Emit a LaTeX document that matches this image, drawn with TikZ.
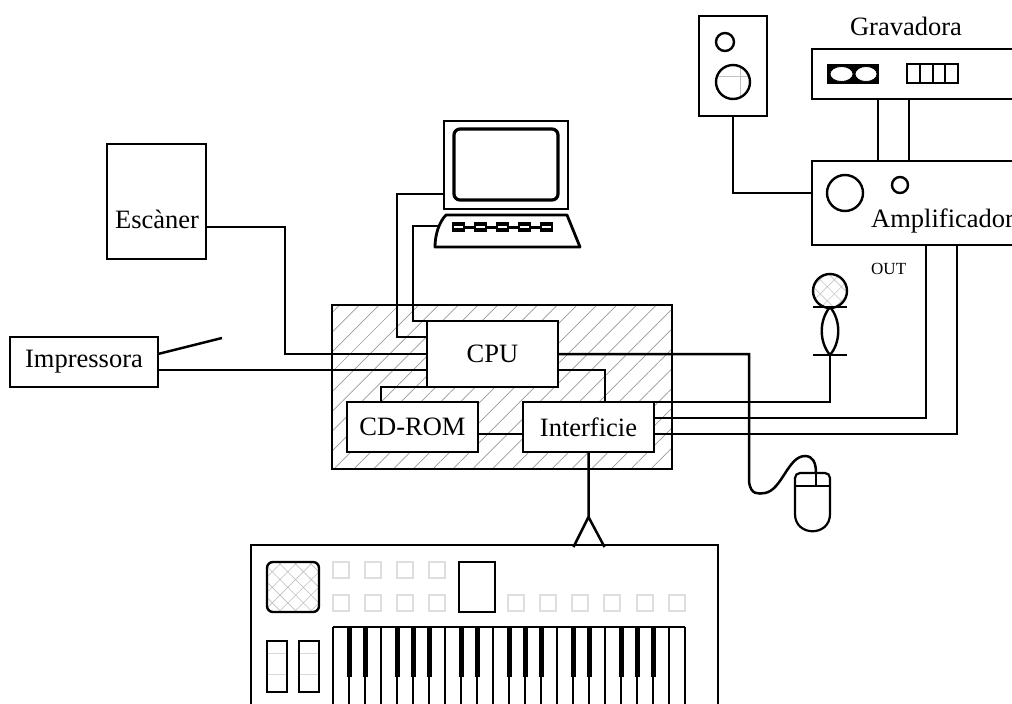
\documentclass[tikz,border=0pt]{standalone}
\usepackage{fontspec}
\setmainfont{Liberation Serif}
\usetikzlibrary{patterns.meta}

\begin{document}
\begin{tikzpicture}[
        x=1pt, y=-1pt,
        box/.style={draw, line width=2.6pt, fill=white, inner sep=0pt, outer sep=0pt, font=\fontsize{26.5}{30}\selectfont},
        tag/.style={inner sep=0pt, font=\fontsize{26.5}{30}\selectfont},
        wire/.style={line width=2.5pt},
        knob/.style={draw=black!13, line width=1.2pt},
        key/.style={line width=2pt}
    ]
    \useasboundingbox (0,0) rectangle (1012,704);
    \clip (0,0) rectangle (1012,704);

    % the computer case with its three parts
    \node[draw, line width=2.6pt, outer sep=0pt, minimum width=340pt, minimum height=164pt,
          pattern={Lines[angle=45,distance=14pt,line width=0.7pt]}, pattern color=black!40] (casing) at (502,387) {};
    \node[box, minimum width=131pt, minimum height=66pt] (cpu) at (492.5,354) {CPU};
    \node[box, minimum width=131pt, minimum height=50pt] (cdrom) at (412.5,427) {CD-ROM};
    \node[box, minimum width=131pt, minimum height=50pt] (iface) at (588.5,427) {Interficie};

    % peripherals
    \node[box, minimum width=99pt, minimum height=115pt] (scanner) at (156.5,201.5) {};
    \node[tag, anchor=base] at (157,228) {Escàner};
    \node[box, minimum width=148pt, minimum height=50pt] (printer) at (84,362) {Impressora};
    \coordinate (loose) at (222,338);

    % laptop
    \node[box, line width=2.8pt, minimum width=124pt, minimum height=88pt] (monitor) at (506,165) {};
    \draw[line width=3.2pt, rounded corners=6pt] (454,129) rectangle (558,200);
    \draw[line width=2.8pt, line join=round] (446,215) -- (567,215) -- (580,247) -- (435,247) .. controls (435,235) and (439,222) .. cycle;
    \foreach \k in {0,...,4} {
        \fill ({452+22*\k},222) rectangle ++(13,10);
        \draw[white, line width=1.5pt] ({454+22*\k},227) -- ++(9,0);
    }
    \foreach \k in {0,...,3}
        \draw[line width=3pt] ({465+22*\k},227) -- ++(9,0);
    \coordinate (tray) at (440,226);

    % hi-fi: speaker, recorder, amplifier
    \node[box, minimum width=68pt, minimum height=100pt] (speaker) at (733,66) {};
    \draw[black!25, line width=0.8pt] (717,76) -- (749,76) (740,66.5) -- (740,97.5);
    \draw[line width=2.4pt] (725,42) circle[radius=9pt] (733,82) circle[radius=17pt];

    \node[box, minimum width=218pt, minimum height=50pt] (recorder) at (921,74) {};
    \node[tag, anchor=base] at (906,35) {Gravadora};
    \fill (827,64) rectangle (879,84);
    \filldraw[fill=white, line width=0.8pt] (841.5,74) ellipse[x radius=11.5pt, y radius=7.5pt]
        (866,74) ellipse[x radius=11pt, y radius=7.5pt];
    \draw[line width=2.4pt] (907,64) rectangle (958,83);
    \foreach \x in {920,933,945}
        \draw[line width=2.4pt] (\x,64) -- (\x,83);

    \node[box, minimum width=218pt, minimum height=84pt] (amp) at (921,203) {};
    \draw[line width=2.4pt] (845,193) circle[radius=18pt] (900,185) circle[radius=8pt];
    \node[tag, anchor=base west] at (871,227) {Amplificador};
    \node[inner sep=0pt, anchor=base west, font=\fontsize{17}{20}\selectfont] at (871,274) {OUT};

    % microphone
    \draw[line width=2.4pt, pattern={Hatch[angle=45,distance=10pt,line width=0.6pt]}, pattern color=black!22] (830,291) circle[radius=17pt];
    \draw[line width=2.4pt] (813,307) -- (847,307) (813,355) -- (847,355);
    \draw[line width=2.4pt] (830,307) .. controls (819,320) and (819,342) .. (830,355) .. controls (841,342) and (841,320) .. (830,307);
    \coordinate (mic) at (830,355);

    % mouse
    \draw[line width=2.2pt, rounded corners=5pt] (795,514) |- (830,473) -- (830,514);
    \draw[line width=2.2pt] (830,514) .. controls (830,537) and (795,537) .. (795,514);
    \draw[line width=2.2pt] (795,486) -- (830,486) (816,473) -- (816,486);
    \coordinate (mouse) at (816,473);

    % keyboard
    \node[box, minimum width=467pt, minimum height=185pt] (keyboard) at (484.5,637.5) {};
    \draw[line width=2.4pt, rounded corners=6pt, pattern={Hatch[angle=45,distance=11pt,line width=0.6pt]}, pattern color=black!25] (267,562) rectangle (319,612);
    \foreach \x in {333,365,397,429} {
        \draw[knob] (\x,562) rectangle ++(16,16);
        \draw[knob] (\x,595) rectangle ++(16,16);
    }
    \foreach \x in {508,540,572,604,637,669}
        \draw[knob] (\x,595) rectangle ++(16,16);
    \draw[line width=2.4pt] (459,562) rectangle (495,612);
    \foreach \x in {267,299} {
        \draw[black!15, line width=1pt] (\x,653) -- ++(20,0) (\x,674) -- ++(20,0);
        \draw[line width=2.4pt] (\x,641) rectangle ++(20,51);
    }
    \draw[line width=2.4pt] (333,627) -- (685,627);
    \foreach \i in {0,...,22}
        \draw[key] ({333+16*\i},627) -- ++(0,90);
    \foreach \i in {1,2,4,5,6,8,9,11,12,13,15,16,18,19,20}
        \draw[line width=5pt] ({333+16*\i},627) -- ++(0,50);

    % cables
    \draw[wire] ([yshift=-25.5pt]scanner.east) -- ++(79,0) |- (cpu.west);
    \draw[wire] ([yshift=8pt]printer.east) -- (loose);
    \draw[wire] ([yshift=-8pt]printer.east) -- ([yshift=-16pt]cpu.west);
    \draw[wire] ([yshift=15pt]monitor.south west) -- ++(-47,0) |- ([yshift=17pt]cpu.west);
    \draw[wire] (tray) -- ++(-27,0) |- (cpu.north west);
    \draw[wire] (cpu.south west) -| ([xshift=-31.5pt]cdrom.north);
    \draw[wire] ([yshift=-16pt]cpu.east) -| ([xshift=16.5pt]iface.north);
    \draw[wire] ([yshift=-7pt]cdrom.east) -- ([yshift=-7pt]iface.west);
    \draw[wire] (cpu.east) -- ++(191,0) -- ++(0,128)
        .. controls (751,495) and (758,494) .. (765,493)
        .. controls (782,490) and (788,456) .. (805,456)
        .. controls (813,456) and (816,463) .. (mouse);
    \draw[wire] (iface.north east) -| (mic);
    \draw[wire] ([yshift=9pt]iface.east) -| ([xshift=114pt]amp.south west);
    \draw[wire] ([yshift=-7pt]iface.east) -| ([xshift=145pt]amp.south west);
    \draw[wire] (speaker.south) |- ([yshift=10pt]amp.west);
    \draw[wire] ([xshift=66pt]recorder.south west) -- ([xshift=66pt]amp.north west);
    \draw[wire] ([xshift=97pt]recorder.south west) -- ([xshift=97pt]amp.north west);
    \draw[wire] (iface.south) -- ++(0,65) coordinate (plug) -- ++(-15,30) (plug) -- ++(16,30);

\end{tikzpicture}
\end{document}
